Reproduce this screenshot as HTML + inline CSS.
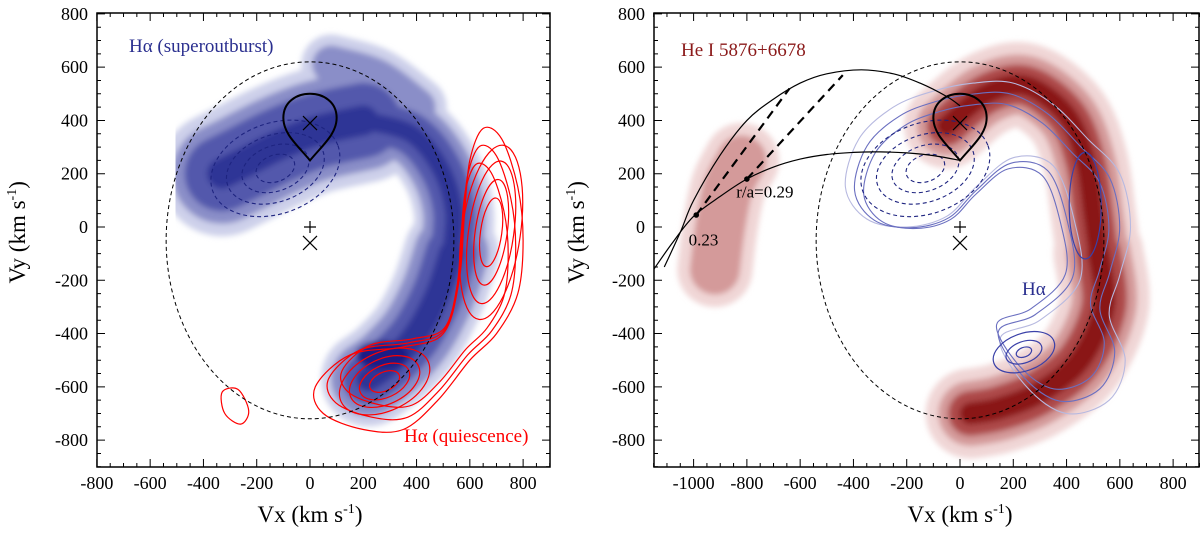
<!DOCTYPE html>
<html><head><meta charset="utf-8"><style>
body{margin:0;background:#fff}
svg{display:block;font-family:"Liberation Serif",serif}
svg text{font-family:"Liberation Serif",serif}
</style></head><body>
<svg id="s" width="1200" height="533" viewBox="0 0 1200 533">
<defs>
<filter id="bl" x="-20%" y="-20%" width="140%" height="140%"><feGaussianBlur stdDeviation="3"/></filter>
<clipPath id="cl"><rect x="97" y="13" width="453" height="454"/></clipPath>
<clipPath id="cr"><rect x="654" y="13" width="545" height="454"/></clipPath>
</defs>
</svg>
<script>
// ---- data (km/s) ----
const xTicksL=[-800,-600,-400,-200,0,200,400,600,800];
const xTicksR=[-1000,-800,-600,-400,-200,0,200,400,600,800];
const yTicks=[800,600,400,200,0,-200,-400,-600,-800];
// superoutburst H-alpha emission spine segments
const armAx=[-330,-250,-120,20,200], armAy=[200,240,305,360,400];
const armBx=[200,380,490,540,530], armBy=[400,350,220,60,-100];
const armCx=[530,480,400,300,220], armCy=[-100,-250,-400,-510,-570];
const topX=[80,250,400], topY=[610,560,450];
// He I emission spine segments
const heAx=[-50,100,250,400,470,500,520], heAy=[380,500,530,420,250,50,-100];
const heBx=[520,540,450,300,150,40], heBy=[-100,-300,-500,-620,-680,-700];
const heBlobX=[-920,-900,-870,-820], heBlobY=[-160,0,150,250];
// quiescence red contour base
const qX=[650,720,780,800,780,700,600,480,350,200,50,20,150,350,500,560,580,600];
const qY=[370,330,150,-50,-250,-400,-500,-650,-760,-760,-700,-600,-480,-450,-400,-200,50,250];
const qScale=[1,0.9,0.8];
const qRightRx=[110,85,60,40], qRightRy=[330,270,200,130];
const qBotRx=[180,140,100,60], qBotRy=[110,85,60,35];
// trajectories (right panel)
const trOutX=[-1110,-1050,-1000,-900,-800,-700,-600,-500,-370,-250,-150,-50,0];
const trOutY=[-150,-20,100,270,400,480,540,575,590,575,540,490,455];
const trInX=[-1150,-1080,-1000,-900,-800,-700,-600,-500,-400,-300,-200,-100,0];
const trInY=[-160,-60,40,115,180,225,255,272,280,282,278,268,250];
const dashX1=[-990,-640], dashY1=[45,520];
const dashX2=[-800,-440], dashY2=[180,570];
const dotX=[-990,-800], dotY=[45,180];

const NS="http://www.w3.org/2000/svg", S=document.getElementById('s');
const K=0.2664;
function mk(tag,at,par){const e=document.createElementNS(NS,tag);for(const k in at)e.setAttribute(k,at[k]);(par||S).appendChild(e);return e;}
function panel(x0){return {X:v=>x0+v*K,Y:v=>227-v*K};}
const L=panel(310), R=panel(960);
function smooth(P,xs,ys,closed){
  const p=xs.map((x,i)=>[P.X(x),P.Y(ys[i])]);const n=p.length;
  let d='M'+p[0][0].toFixed(1)+','+p[0][1].toFixed(1);
  const m=closed?n:n-1;
  for(let i=0;i<m;i++){
    const p0=p[(i-1+n)%n],p1=p[i],p2=p[(i+1)%n],p3=p[(i+2)%n];
    const a=closed||i>0?p0:p1,b=closed||i+2<n?p3:p2;
    const c1=[p1[0]+(p2[0]-a[0])/6,p1[1]+(p2[1]-a[1])/6],c2=[p2[0]-(b[0]-p1[0])/6,p2[1]-(b[1]-p1[1])/6];
    d+='C'+c1.map(v=>v.toFixed(1))+' '+c2.map(v=>v.toFixed(1))+' '+p2.map(v=>v.toFixed(1));
  }
  return d+(closed?'Z':'');
}

// ---- left panel ----
const gL=mk('g',{'clip-path':'url(#cl)'});


const gB=mk('g',{filter:'url(#bl)'},gL);


const blueCols=['#cdd0ea','#8a8ec8','#5258ac','#2f3596'];
const segs=[[armAx,armAy,[125,100,75,30]],[armBx,armBy,[80,62,42,18]],[armCx,armCy,[95,75,52,25]],[topX,topY,[60,38,0,0]]];
for(let l=0;l<4;l++)for(const s of segs){if(!s[2][l])continue;
  const p=mk('path',{d:smooth(L,s[0],s[1],false),fill:'none',stroke:blueCols[l],'stroke-width':s[2][l],'stroke-linecap':'round','stroke-linejoin':'round'},gB);
  
  }
const dk=mk('ellipse',{cx:L.X(270),cy:L.Y(-480),rx:26,ry:14,fill:'#1a1f85'},gB);


function dashedLoops(P,g,col){
  for(const r of [[250,170],[190,125],[130,85],[75,50]]){
    const e=mk('ellipse',{cx:P.X(-130),cy:P.Y(220),rx:r[0]*K,ry:r[1]*K,fill:'none',stroke:col,'stroke-width':1.1,'stroke-dasharray':'4,3',transform:`rotate(-20 ${P.X(-130)} ${P.Y(220)})`},g);
    
    }
}
dashedLoops(L,gL,'#1e2480');
// red quiescence contours
const cx0=520,cy0=-300;
for(const f of qScale){
  const p=mk('path',{d:smooth(L,qX.map(x=>cx0+(x-cx0)*f),qY.map(y=>cy0+(y-cy0)*f),true),fill:'none',stroke:'#f00','stroke-width':1.2},gL);
  
  }
qRightRx.forEach((rx,i)=>{const e=mk('ellipse',{cx:L.X(680),cy:L.Y(-20),rx:rx*K,ry:qRightRy[i]*K,fill:'none',stroke:'#f00','stroke-width':1.2,transform:`rotate(8 ${L.X(680)} ${L.Y(-20)})`},gL);
  
  });
qBotRx.forEach((rx,i)=>{const e=mk('ellipse',{cx:L.X(280),cy:L.Y(-580),rx:rx*K,ry:qBotRy[i]*K,fill:'none',stroke:'#f00','stroke-width':1.2,transform:`rotate(-25 ${L.X(280)} ${L.Y(-580)})`},gL);
  
  });
const sm=mk('path',{d:smooth(L,[-330,-270,-230,-260,-320],[-620,-610,-690,-740,-700],true),fill:'none',stroke:'#f00','stroke-width':1.2},gL);



// ---- right panel ----
const gR=mk('g',{'clip-path':'url(#cr)'});


const gH=mk('g',{filter:'url(#bl)'},gR);


const redCols=['#f0d6d6','#d49a9a','#ad4a4a','#8a1414'];
const rsegs=[[heAx,heAy,[85,60,40,20]],[heBx,heBy,[90,65,45,22]],[heBlobX,heBlobY,[75,50,0,0]]];
for(let l=0;l<4;l++)for(const s of rsegs){if(!s[2][l])continue;
  const p=mk('path',{d:smooth(R,s[0],s[1],false),fill:'none',stroke:redCols[l],'stroke-width':s[2][l],'stroke-linecap':'round','stroke-linejoin':'round'},gH);
  
  }
// blue H-alpha contours on right
const hbX=[-430,-380,-250,-100,50,200,350,480,600,640,600,560,620,560,400,250,150,300,450,430,350,200,60,-50,-200,-350];
const hbY=[150,330,450,510,540,540,460,330,200,0,-180,-330,-500,-650,-700,-600,-420,-350,-200,20,230,260,150,40,0,30];
for(const f of [1,0.93,0.86]){
  const p=mk('path',{d:smooth(R,hbX.map(x=>60+(x-60)*f),hbY.map(y=>-40+(y+40)*f),true),fill:'none',stroke:f==1?'#b7b9e0':'#6a6fc0','stroke-width':1.1},gR);
  
  }
for(const r of [[120,70],[70,40],[30,18]]){const e=mk('ellipse',{cx:R.X(240),cy:R.Y(-470),rx:r[0]*K,ry:r[1]*K,fill:'none',stroke:'#3a40a8','stroke-width':1.2,transform:`rotate(-20 ${R.X(240)} ${R.Y(-470)})`},gR);
  
  }
const rc=mk('ellipse',{cx:R.X(470),cy:R.Y(80),rx:60*K,ry:200*K,fill:'none',stroke:'#3a40a8','stroke-width':1.2},gR);


dashedLoops(R,gR,'#1e2480');
// trajectories
const t1=mk('path',{d:smooth(R,trOutX,trOutY,false),fill:'none',stroke:'#000','stroke-width':1.2},gR);


const t2=mk('path',{d:smooth(R,trInX,trInY,false),fill:'none',stroke:'#000','stroke-width':1.2},gR);


for(const [xs,ys] of [[dashX1,dashY1],[dashX2,dashY2]]){
  const l=mk('line',{x1:R.X(xs[0]),y1:R.Y(ys[0]),x2:R.X(xs[1]),y2:R.Y(ys[1]),stroke:'#000','stroke-width':2.2,'stroke-dasharray':'9,6'},gR);
  
  }
dotX.forEach((x,i)=>{const c=mk('circle',{cx:R.X(x),cy:R.Y(dotY[i]),r:2.8,fill:'#000'},gR);
  
  });

// ---- common overlays ----
function overlays(P,g){
  const el=mk('ellipse',{cx:P.X(0),cy:P.Y(-50),rx:540*K,ry:670*K,fill:'none',stroke:'#000','stroke-width':1,'stroke-dasharray':'4,3'},g);
  
  
  const rl=mk('path',{d:`M${P.X(0)},${P.Y(250)} C${P.X(50)},${P.Y(310)} ${P.X(100)},${P.Y(350)} ${P.X(100)},${P.Y(410)} C${P.X(100)},${P.Y(470)} ${P.X(50)},${P.Y(500)} ${P.X(0)},${P.Y(500)} C${P.X(-50)},${P.Y(500)} ${P.X(-100)},${P.Y(470)} ${P.X(-100)},${P.Y(410)} C${P.X(-100)},${P.Y(350)} ${P.X(-50)},${P.Y(310)} ${P.X(0)},${P.Y(250)}Z`,fill:'none',stroke:'#000','stroke-width':2},g);
  
  
  for(const [vy,s] of [[390,7],[-60,7]]){
    const x=mk('path',{d:`M${P.X(0)-s},${P.Y(vy)-s}L${P.X(0)+s},${P.Y(vy)+s}M${P.X(0)-s},${P.Y(vy)+s}L${P.X(0)+s},${P.Y(vy)-s}`,stroke:'#000','stroke-width':1.2},g);
    
    }
  const pl=mk('path',{d:`M${P.X(0)-6},${P.Y(0)}h12M${P.X(0)},${P.Y(0)-6}v12`,stroke:'#000','stroke-width':1.2},g);
  
  
}
overlays(L,gL);overlays(R,gR);

// ---- axes ----
function axes(P,left,right,xt,vxMin,vxMax,titleX,ytitleX,name){
  const g=mk('g',{});
  
  
  mk('rect',{x:left,y:13,width:right-left,height:454,fill:'none',stroke:'#000','stroke-width':1.5},g);
  let d='';
  for(let v=Math.ceil(vxMin/50)*50;v<=vxMax;v+=50){const x=P.X(v),len=v%200==0?8:4;d+=`M${x},467v${-len}M${x},13v${len}`;}
  for(let v=-900;v<=800;v+=50){const y=P.Y(v),len=v%200==0?8:4;d+=`M${left},${y}h${len}M${right},${y}h${-len}`;}
  mk('path',{d,stroke:'#000','stroke-width':1},g);
  xt.forEach(v=>{const t=mk('text',{x:P.X(v),y:489,'font-size':18,'text-anchor':'middle'},g);t.textContent=v;
    
    });
  yTicks.forEach(v=>{const t=mk('text',{x:left-9,y:P.Y(v)+6,'font-size':18,'text-anchor':'end'},g);t.textContent=v;
    
    });
  const tx=mk('text',{x:titleX,y:522,'font-size':23,'text-anchor':'middle'},g);
  tx.innerHTML='Vx (km s<tspan dy="-9" font-size="14">-1</tspan><tspan dy="9">)</tspan>';
  
  
  const ty=mk('text',{x:0,y:0,'font-size':23,'text-anchor':'middle',transform:`translate(${ytitleX},${P.Y(-20)}) rotate(-90)`},g);
  ty.innerHTML='Vy (km s<tspan dy="-9" font-size="14">-1</tspan><tspan dy="9">)</tspan>';
  
  
}
axes(L,97,550,xTicksL,-800,900,310,25,'left-axes');
axes(R,654,1199,xTicksR,-1150,900,960,584,'right-axes');

// ---- labels ----
function lbl(x,y,txt,col,name,size){const t=mk('text',{x,y,'font-size':size||19,fill:col});t.textContent=txt;
  
  return t;}
lbl(129,52,'Hα (superoutburst)','#2a2f8f','label-superoutburst');
lbl(404,442,'Hα (quiescence)','#f00','label-quiescence');
lbl(681,56,'He I 5876+6678','#8b1a1a','label-hei');
lbl(1022,295,'Hα','#2a2f8f','label-halpha');
lbl(R.X(-1000)-5,R.Y(-70),'0.23','#000','label-radius-023',17);
lbl(R.X(-840),R.Y(110),'r/a=0.29','#000','label-radius-029',17);
</script>
</body></html>
